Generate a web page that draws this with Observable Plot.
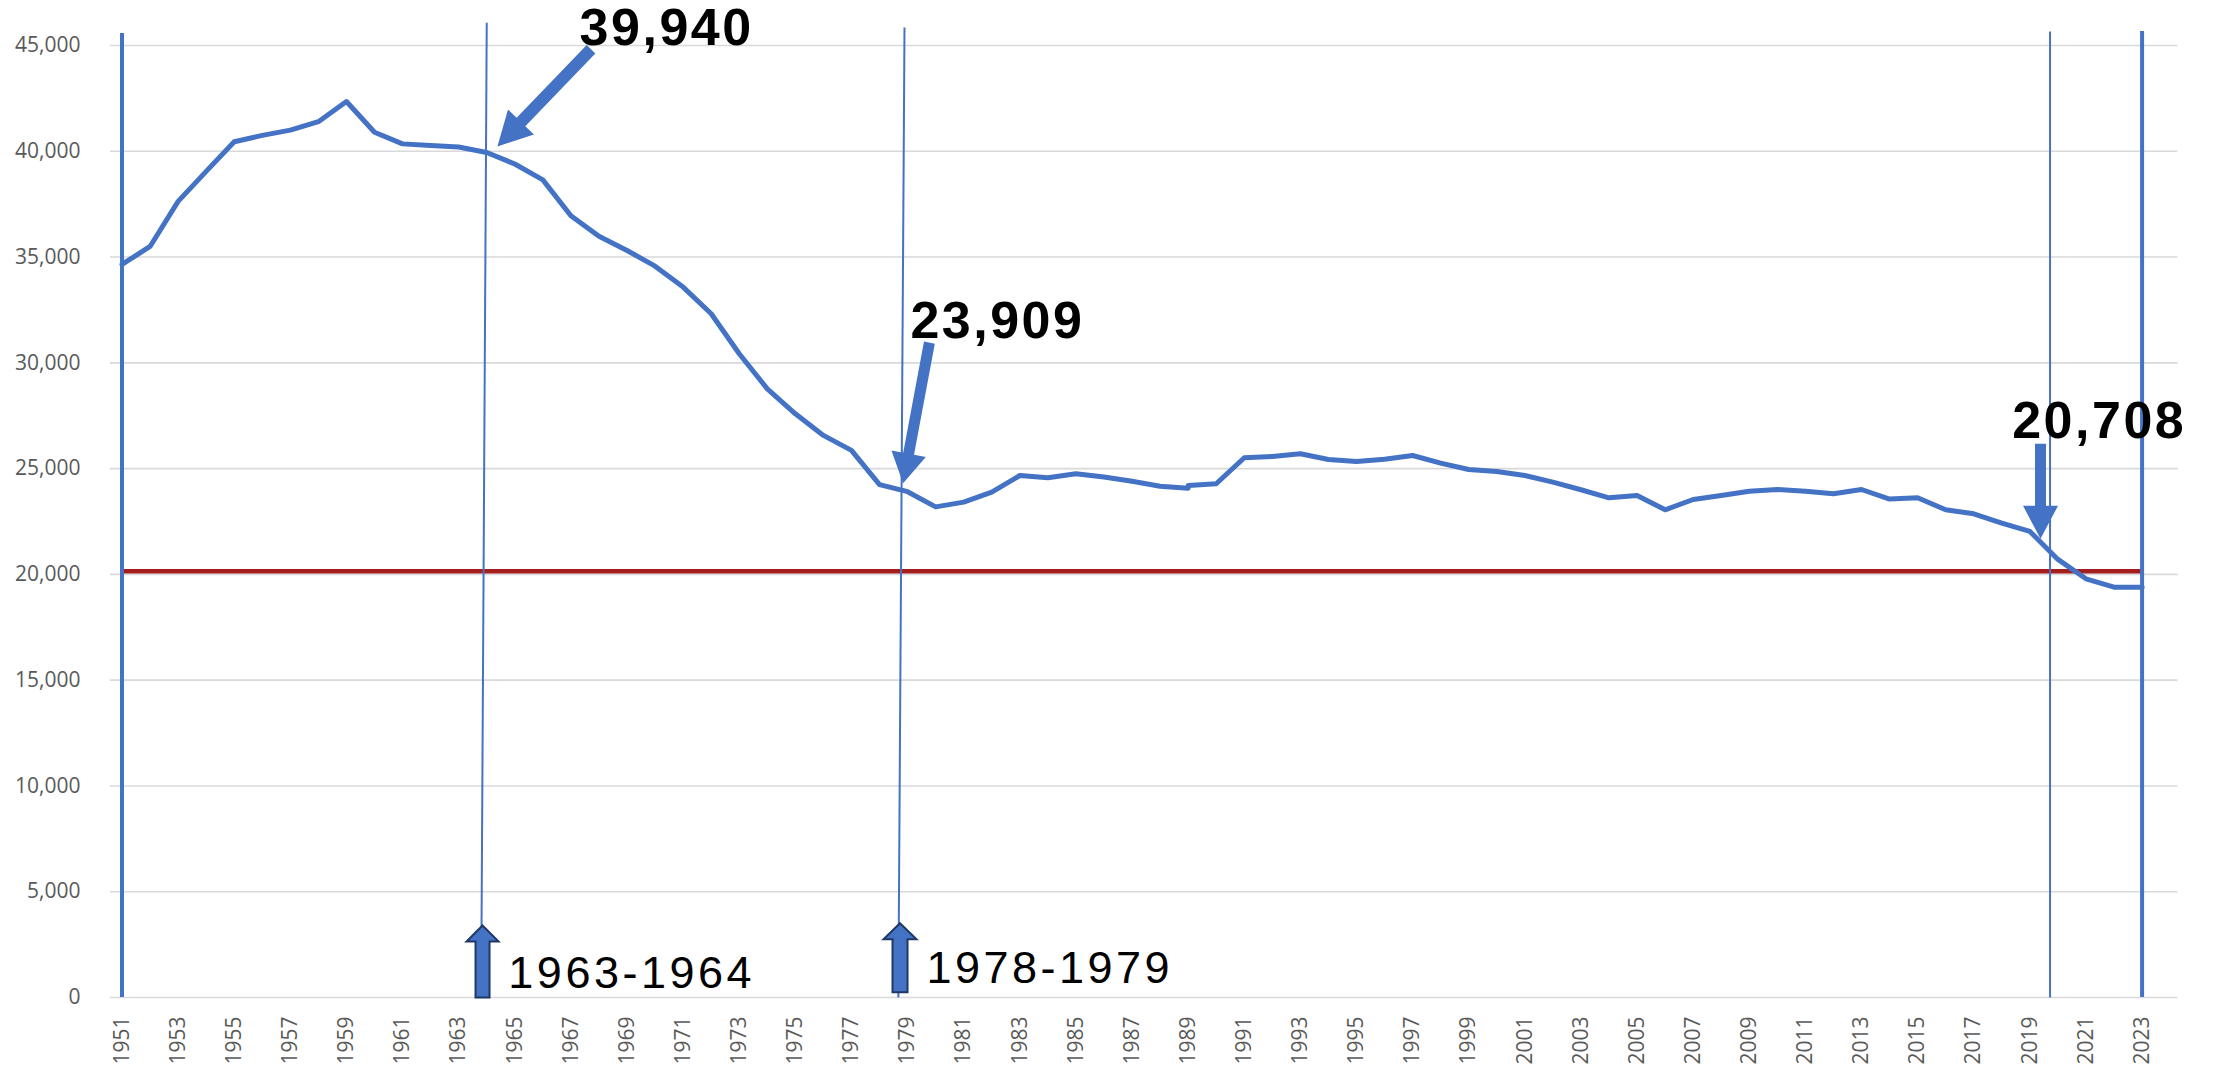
<!DOCTYPE html>
<html>
<head>
<meta charset="utf-8">
<script src="https://cdn.jsdelivr.net/npm/d3@7"></script>
<script src="https://cdn.jsdelivr.net/npm/@observablehq/plot@0.6"></script>
<style>
  html, body { margin: 0; padding: 0; background: #fff; }
  #chart svg { display: block; }
</style>
</head>
<body>
<div id="chart"></div>
<script>
// ---------- DATA ----------
// Series, first segment 1951–1989
const startA = 1951;
const valuesA = [
  34650, 35500, 37630, 39050, 40450, 40750, 41000, 41400, 42350, 40900,
  40350, 40270, 40200, 39940, 39400, 38650, 36950, 35980, 35310, 34570,
  33580, 32320, 30430, 28770, 27590, 26570, 25860, 24240, 23909, 23190,
  23415, 23886, 24675, 24565, 24754, 24600, 24400, 24170, 24075
];
// Series, second segment 1989–2023
const startB = 1989;
const valuesB = [
  24200, 24283, 25512, 25574, 25700, 25432, 25337, 25446, 25620, 25258,
  24959, 24864, 24675, 24360, 24000, 23620, 23730, 23054, 23540, 23730,
  23934, 24013, 23934, 23808, 24013, 23560, 23620, 23054, 22865, 22420,
  22030, 20708, 19792, 19396, 19396
];
const referenceValue = 20150;

const yTicks = [0, 5000, 10000, 15000, 20000, 25000, 30000, 35000, 40000, 45000];
const xTicks = [1951,1953,1955,1957,1959,1961,1963,1965,1967,1969,1971,1973,1975,1977,1979,
  1981,1983,1985,1987,1989,1991,1993,1995,1997,1999,2001,2003,2005,2007,2009,2011,2013,
  2015,2017,2019,2021,2023];

// boundary lines (thick) and event lines (thin, slightly tilted as drawn)
const boundaryLines = [{year: 1951, top: 45570}, {year: 2023, top: 45660}];
const eventLines = [
  {yearTop: 1964.0, top: 46075, yearBottom: 1963.80},
  {yearTop: 1978.89, top: 45850, yearBottom: 1978.67},
  {yearTop: 2019.72, top: 45660, yearBottom: 2019.72}
];

// value callouts
const callouts = [
  {label: "39,940", year: 1967.31, value: 45820},
  {label: "23,909", year: 1979.10, value: 31970},
  {label: "20,708", year: 2018.37, value: 27240}
];
const calloutTips = [
  {year: 1964.38, value: 40226},
  {year: 1978.84, value: 24311},
  {year: 2019.38, value: 21683}
];
// period labels
const periods = [
  {label: "1963-1964", year: 1964.77, value: 1150},
  {label: "1978-1979", year: 1979.67, value: 1390}
];
const periodTips = [
  {year: 1963.85, value: 3403},
  {year: 1978.73, value: 3512}
];

// ---------- BUILD ----------
const dataA = valuesA.map((value, i) => ({year: startA + i, value}));
const dataB = valuesB.map((value, i) => ({year: startB + i, value}));

const BLUE = "#4472C4";

function arrowSymbol(len, shaft, headLen, headWidth, angleDeg) {
  const a = angleDeg * Math.PI / 180, c = Math.cos(a), s = Math.sin(a);
  const pts = [[0, 0], [headWidth / 2, headLen], [shaft / 2, headLen], [shaft / 2, len],
               [-shaft / 2, len], [-shaft / 2, headLen], [-headWidth / 2, headLen]];
  return {
    draw(ctx) {
      pts.forEach(([x, y], i) => {
        const X = x * c - y * s, Y = x * s + y * c;
        if (i) ctx.lineTo(X, Y); else ctx.moveTo(X, Y);
      });
      ctx.closePath();
    }
  };
}

const calloutShapes = [
  arrowSymbol(135, 12, 34, 36, 223.9),
  arrowSymbol(143, 11, 30, 35, 190.6),
  arrowSymbol(95, 11, 33, 35, 180)
];
const periodShapes = [
  arrowSymbol(72, 14, 16, 32, 0),
  arrowSymbol(69, 15, 16, 33, 0)
];

const chart = Plot.plot({
  width: 2215,
  height: 1067,
  marginTop: 45,
  marginBottom: 70,
  marginLeft: 110,
  marginRight: 37.5,
  x: {domain: [1950.59, 2024.28]},
  y: {domain: [0, 45000]},
  style: {background: "#fff", overflow: "visible"},
  marks: [
    Plot.gridY(yTicks, {stroke: "#d9d9d9", strokeOpacity: 1, strokeWidth: 1.6}),
    Plot.axisY(yTicks, {
      tickSize: 0, tickPadding: 30, tickFormat: d3.format(","),
      fontSize: 21, fontFamily: "Open Sans", fill: "#595959", label: null
    }),
    Plot.axisX(xTicks, {
      tickSize: 0, tickPadding: 19, tickRotate: -90, tickFormat: d => String(d),
      fontSize: 21, fontFamily: "Open Sans", fill: "#595959", label: null
    }),
    Plot.ruleY([referenceValue], {x1: 1951, x2: 2023, stroke: "#A51E1E", strokeWidth: 4.5}),
    Plot.line(dataA, {x: "year", y: "value", stroke: BLUE, strokeWidth: 5,
      strokeLinejoin: "round", strokeLinecap: "round"}),
    Plot.line(dataB, {x: "year", y: "value", stroke: BLUE, strokeWidth: 5,
      strokeLinejoin: "round", strokeLinecap: "round"}),
    Plot.ruleX(boundaryLines, {x: "year", y1: 0, y2: "top", stroke: BLUE, strokeWidth: 4}),
    Plot.link(eventLines, {x1: "yearTop", y1: "top", x2: "yearBottom", y2: 0,
      stroke: BLUE, strokeWidth: 2}),
    ...calloutTips.map((d, i) => Plot.dot([d], {x: "year", y: "value",
      symbol: calloutShapes[i], fill: BLUE, stroke: "none"})),
    ...periodTips.map((d, i) => Plot.dot([d], {x: "year", y: "value",
      symbol: periodShapes[i], fill: BLUE, stroke: "#1F3864", strokeWidth: 2})),
    Plot.text(callouts, {x: "year", y: "value", text: "label", textAnchor: "start",
      lineAnchor: "middle", fontFamily: "Liberation Sans", fontWeight: 700, fontSize: 52,
      fill: "#000"}),
    Plot.text(periods, {x: "year", y: "value", text: "label", textAnchor: "start",
      lineAnchor: "middle", fontFamily: "Liberation Sans", fontSize: 45, fill: "#000"})
  ]
});

const calloutSet = new Set(callouts.map(d => d.label));
const periodSet = new Set(periods.map(d => d.label));
chart.querySelectorAll("text").forEach(t => {
  const s = t.textContent;
  if (calloutSet.has(s)) t.style.letterSpacing = "2.5px";
  else if (periodSet.has(s)) t.style.letterSpacing = "3.5px";
});

document.getElementById("chart").appendChild(chart);
</script>
</body>
</html>
